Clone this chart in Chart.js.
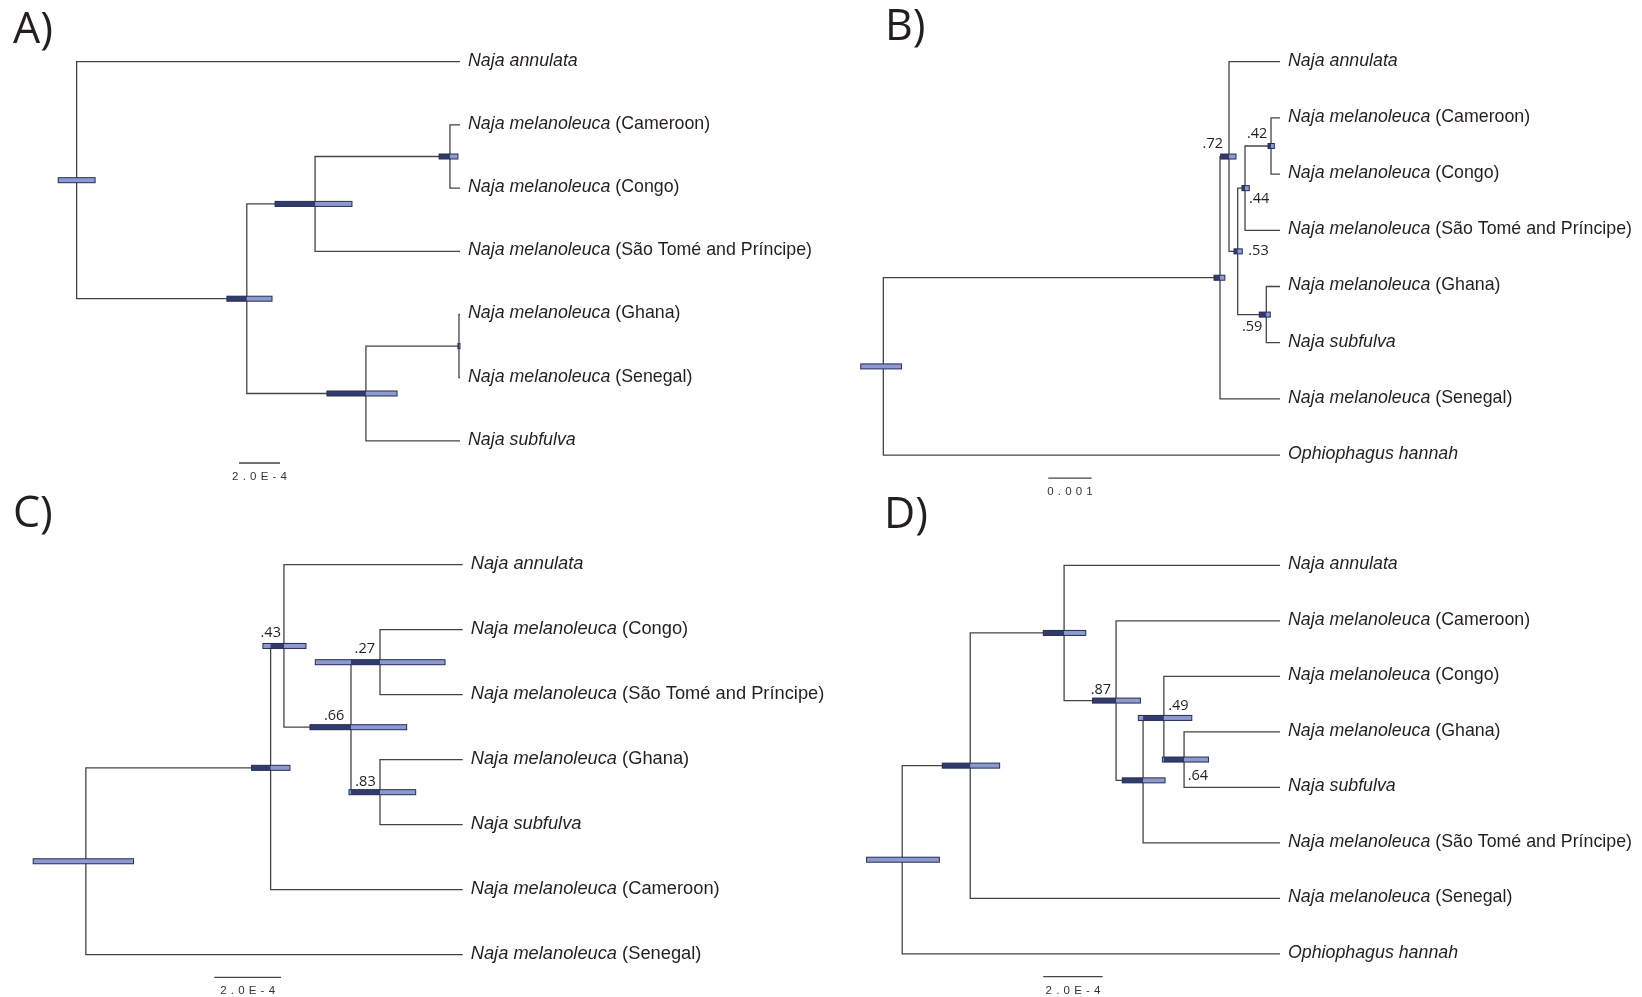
<!DOCTYPE html>
<html lang="en">
<head>
<meta charset="UTF-8">
<title>Naja melanoleuca complex - dated trees</title>
<style>
  body { margin: 0; background: #fff; }
  .panel { position: absolute; }
</style>
</head>
<body>
<canvas id="treeA" class="panel" width="830" height="500" style="left:0;top:0"></canvas>
<canvas id="treeB" class="panel" width="821" height="500" style="left:821px;top:0"></canvas>
<canvas id="treeC" class="panel" width="840" height="507" style="left:0;top:490px"></canvas>
<canvas id="treeD" class="panel" width="821" height="507" style="left:821px;top:490px"></canvas>
<script src="https://cdn.jsdelivr.net/npm/chart.js"></script>
<script>
// tips top to bottom. node children: 't3' = tip 3, 'n2' = node 2 (node 0 is the root)
// ages measured back from the tips: A, C, D in 1e-4 subst/site, B in 1e-3
const tipsA = ['Naja annulata', 'Naja melanoleuca (Cameroon)', 'Naja melanoleuca (Congo)',
  'Naja melanoleuca (São Tomé and Príncipe)', 'Naja melanoleuca (Ghana)',
  'Naja melanoleuca (Senegal)', 'Naja subfulva'];
const kidsA = [['t0', 'n1'], ['n2', 'n4'], ['n3', 't3'], ['t1', 't2'], ['n5', 't6'], ['t4', 't5']];
const agesA = [18.7, 10.4, 7.07, 0.49, 4.59, 0.05];
const hpdLoA = [17.8, 9.17, 5.27, 0.10, 3.07, 0.0];
const hpdHiA = [19.6, 11.37, 9.02, 1.02, 6.49, 0.1];
const postA = [null, null, null, null, null, null];

const tipsB = ['Naja annulata', 'Naja melanoleuca (Cameroon)', 'Naja melanoleuca (Congo)',
  'Naja melanoleuca (São Tomé and Príncipe)', 'Naja melanoleuca (Ghana)', 'Naja subfulva',
  'Naja melanoleuca (Senegal)', 'Ophiophagus hannah'];
const kidsB = [['n1', 't7'], ['n2', 't6'], ['t0', 'n3'], ['n4', 'n6'], ['n5', 't3'], ['t1', 't2'], ['t4', 't5']];
const agesB = [9.14, 1.382, 1.175, 0.975, 0.806, 0.207, 0.316];
const hpdLoB = [8.72, 1.27, 1.014, 0.869, 0.707, 0.131, 0.224];
const hpdHiB = [9.66, 1.52, 1.366, 1.06, 0.876, 0.276, 0.477];
const postB = [null, null, 0.72, 0.53, 0.44, 0.42, 0.59];

const tipsC = ['Naja annulata', 'Naja melanoleuca (Congo)', 'Naja melanoleuca (São Tomé and Príncipe)',
  'Naja melanoleuca (Ghana)', 'Naja subfulva', 'Naja melanoleuca (Cameroon)', 'Naja melanoleuca (Senegal)'];
const kidsC = [['n1', 't6'], ['n2', 't5'], ['t0', 'n3'], ['n4', 'n5'], ['t1', 't2'], ['t3', 't4']];
const agesC = [11.30, 5.76, 5.36, 3.35, 2.48, 2.48];
const hpdLoC = [9.87, 5.18, 4.70, 1.68, 0.53, 1.41];
const hpdHiC = [12.88, 6.33, 5.99, 4.58, 4.42, 3.41];
const postC = [null, null, 0.43, 0.66, 0.27, 0.83];

const tipsD = ['Naja annulata', 'Naja melanoleuca (Cameroon)', 'Naja melanoleuca (Congo)',
  'Naja melanoleuca (Ghana)', 'Naja subfulva', 'Naja melanoleuca (São Tomé and Príncipe)',
  'Naja melanoleuca (Senegal)', 'Ophiophagus hannah'];
const kidsD = [['n1', 't7'], ['n2', 't6'], ['t0', 'n3'], ['t1', 'n4'], ['n5', 't5'], ['t2', 'n6'], ['t3', 't4']];
const agesD = [12.72, 10.43, 7.27, 5.52, 4.61, 3.91, 3.23];
const hpdLoD = [11.47, 9.44, 6.54, 4.70, 3.87, 2.97, 2.41];
const hpdHiD = [13.92, 11.37, 7.97, 6.31, 5.31, 4.77, 3.96];
const postD = [null, null, null, 0.87, null, 0.49, 0.64];

const scaleLen = [2, 1, 2, 2];
const scaleText = ['2.0E-4', '0.001', '2.0E-4', '2.0E-4'];

// layout / styling per panel
const panels = [
  { id: 'treeA', letter: 'A)', tips: tipsA, kids: kidsA, ages: agesA, lo: hpdLoA, hi: hpdHiA, post: postA,
    xmax: 21, pad: { left: 29.5, right: 370, top: 30.1, bottom: 27.5 }, letterAt: [13, 42.7],
    bar: [10.78, 6.35], fs: 17.8, postPos: {} },
  { id: 'treeB', letter: 'B)', tips: tipsB, kids: kidsB, ages: agesB, lo: hpdLoB, hi: hpdHiB, post: postB,
    xmax: 10, pad: { left: 25, right: 362, top: 33.6, bottom: 16.8 }, letterAt: [64, 40],
    bar: [5.34, 7.41], fs: 17.8,
    postPos: { 2: [-6, -8.7, 'right'], 3: [10.6, 3.6, 'left'], 4: [4, 14.6, 'left'], 5: [-3.7, -8, 'right'], 6: [-4, 16.7, 'right'] } },
  { id: 'treeC', letter: 'C)', tips: tipsC, kids: kidsC, ages: agesC, lo: hpdLoC, hi: hpdHiC, post: postC,
    xmax: 13.5, pad: { left: 12.5, right: 377.3, top: 42.2, bottom: 9.8 }, letterAt: [13, 37],
    bar: [7.45, 6.35], fs: 18.3,
    postPos: { 2: [-3, -9.3, 'right'], 3: [-6.7, -7.3, 'right'], 4: [-5, -9, 'right'], 5: [-4.3, -6.6, 'right'] } },
  { id: 'treeD', letter: 'D)', tips: tipsD, kids: kidsD, ages: agesD, lo: hpdLoD, hi: hpdHiD, post: postD,
    xmax: 14.5, pad: { left: 28.35, right: 362, top: 47.55, bottom: 15.45 }, letterAt: [63, 38],
    bar: [7.97, 7.41], fs: 17.8,
    postPos: { 3: [-5, -7, 'right'], 5: [4.3, -8.4, 'left'], 6: [3.7, 20.7, 'left'] } }
];

const LINE = '#454545';
const BAR_FILL = '#8d9ad0';
const BAR_DARK = '#323c6c';
const BAR_EDGE = '#262d55';
const TEXT = '#231f20';
const SANS = '"Liberation Sans", Arial, sans-serif';

function buildTree(p) {
  const y = {};
  const parent = {};
  p.tips.forEach((_, i) => { y['t' + i] = i; });
  p.kids.forEach((k, i) => k.forEach(c => { parent[c] = i; }));
  const ny = ref => {
    if (y[ref] === undefined) {
      const k = p.kids[+ref.slice(1)];
      y[ref] = (ny(k[0]) + ny(k[k.length - 1])) / 2;
    }
    return y[ref];
  };
  const age = ref => ref[0] === 't' ? 0 : p.ages[+ref.slice(1)];
  p.kids.forEach((_, i) => ny('n' + i));
  return { ny, age, parent };
}

function makeDecor(p, tree, idx) {
  return {
    id: 'decor' + idx,
    afterDatasetsDraw(chart) {
      const ctx = chart.ctx;
      const xs = chart.scales.x, ys = chart.scales.y;
      ctx.save();
      // 95% HPD bars
      p.kids.forEach((k, i) => {
        const yy = ys.getPixelForValue(tree.ny('n' + i));
        const x1 = xs.getPixelForValue(p.hi[i]);
        const x2 = xs.getPixelForValue(p.lo[i]);
        ctx.fillStyle = BAR_FILL;
        ctx.fillRect(x1, yy - 2.5, x2 - x1, 5);
        const par = tree.parent['n' + i];
        if (par !== undefined && p.hi[i] > p.ages[i]) {
          const d1 = xs.getPixelForValue(Math.min(p.hi[i], p.ages[par]));
          const d2 = xs.getPixelForValue(p.ages[i]);
          ctx.fillStyle = BAR_DARK;
          ctx.fillRect(d1, yy - 2.5, d2 - d1, 5);
        }
        ctx.strokeStyle = BAR_EDGE;
        ctx.lineWidth = 1;
        ctx.strokeRect(x1, yy - 2.5, x2 - x1, 5);
      });
      // posterior support
      ctx.fillStyle = TEXT;
      ctx.font = '14.5px "Open Sans", sans-serif';
      ctx.textBaseline = 'alphabetic';
      p.post.forEach((v, i) => {
        if (v === null) return;
        const pos = p.postPos[i];
        const nx = xs.getPixelForValue(p.ages[i]);
        const yy = ys.getPixelForValue(tree.ny('n' + i));
        ctx.textAlign = pos[2];
        ctx.fillText(v.toFixed(2).slice(1), nx + pos[0], yy + pos[1]);
      });
      // tip names
      ctx.textAlign = 'left';
      const tx = xs.getPixelForValue(0) + 8;
      p.tips.forEach((name, i) => {
        const yy = ys.getPixelForValue(i) + p.fs * 0.22;
        const cut = name.indexOf(' (');
        const ital = cut < 0 ? name : name.slice(0, cut);
        ctx.font = 'italic ' + p.fs + 'px ' + SANS;
        ctx.fillText(ital, tx, yy);
        if (cut >= 0) {
          const w = ctx.measureText(ital).width;
          ctx.font = p.fs + 'px ' + SANS;
          ctx.fillText(name.slice(cut), tx + w, yy);
        }
      });
      // scale bar label
      const b1 = xs.getPixelForValue(p.bar[0]);
      const b2 = xs.getPixelForValue(p.bar[0] - scaleLen[idx]);
      const by = ys.getPixelForValue(p.bar[1]);
      ctx.font = '11.5px ' + SANS;
      ctx.fillStyle = '#333';
      const txt = scaleText[idx];
      const sp = 4.2;
      let w = 0;
      for (const ch of txt) w += ctx.measureText(ch).width;
      w += sp * (txt.length - 1);
      let cx = (b1 + b2) / 2 - w / 2;
      for (const ch of txt) {
        ctx.fillText(ch, cx, by + 17);
        cx += ctx.measureText(ch).width + sp;
      }
      // panel letter
      ctx.fillStyle = TEXT;
      ctx.font = '43px "Open Sans", sans-serif';
      ctx.fillText(p.letter, p.letterAt[0], p.letterAt[1]);
      ctx.restore();
    }
  };
}

panels.forEach((p, idx) => {
  const tree = buildTree(p);
  const datasets = p.kids.map((k, i) => ({
    data: [
      { x: tree.age(k[0]), y: tree.ny(k[0]) },
      { x: p.ages[i], y: tree.ny(k[0]) },
      { x: p.ages[i], y: tree.ny(k[1]) },
      { x: tree.age(k[1]), y: tree.ny(k[1]) }
    ],
    showLine: true, borderColor: LINE, borderWidth: 1.3,
    pointRadius: 0, tension: 0, fill: false, clip: false
  }));
  // scale bar
  datasets.push({
    data: [{ x: p.bar[0], y: p.bar[1] }, { x: p.bar[0] - scaleLen[idx], y: p.bar[1] }],
    showLine: true, borderColor: LINE, borderWidth: 1.3, pointRadius: 0, clip: false
  });

  new Chart(document.getElementById(p.id), {
    type: 'scatter',
    data: { datasets: datasets },
    options: {
      responsive: false,
      animation: false,
      events: [],
      layout: { padding: p.pad },
      plugins: { legend: { display: false }, tooltip: { enabled: false } },
      scales: {
        x: { type: 'linear', reverse: true, min: 0, max: p.xmax, display: false },
        y: { type: 'linear', reverse: true, min: -0.5, max: p.tips.length - 0.5, display: false }
      }
    },
    plugins: [makeDecor(p, tree, idx)]
  });
});
</script>
</body>
</html>
